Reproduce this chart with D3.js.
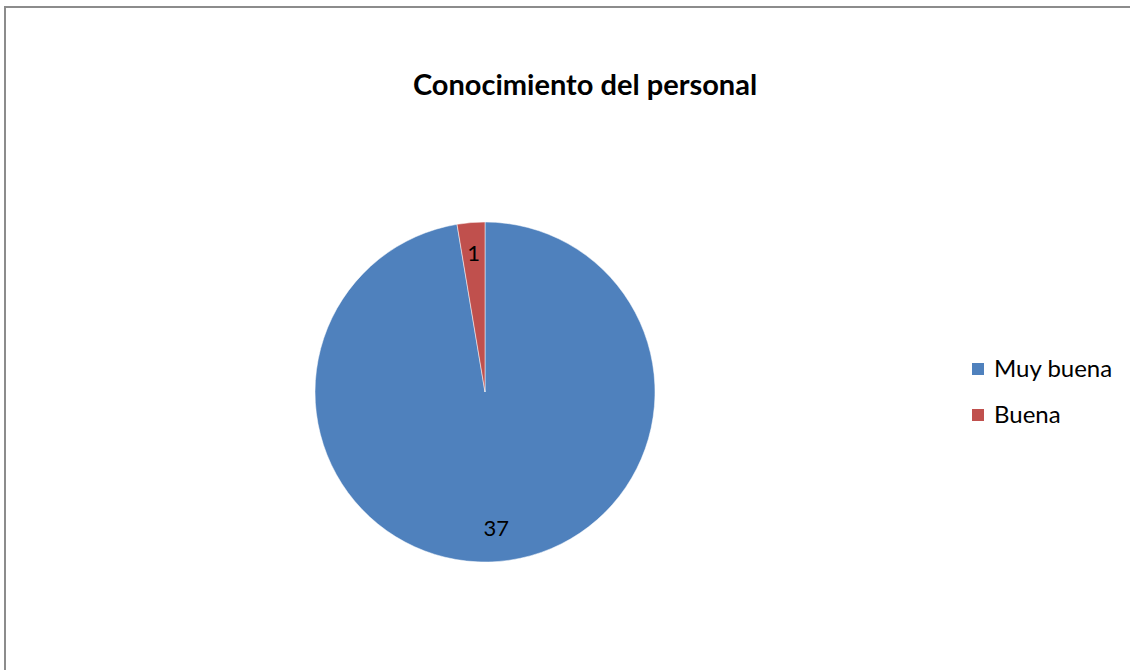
<!DOCTYPE html>
<html>
<head>
<meta charset="utf-8">
<script src="https://cdn.jsdelivr.net/npm/d3@7"></script>
<style>
  body { margin:0; background:#fff; overflow:hidden; }
  text { font-family: Lato, "Open Sans", sans-serif; }
</style>
</head>
<body>
<svg id="chart" width="1130" height="670"></svg>
<script>
// data
var categories = ["Muy buena", "Buena"];
var values = [37, 1];
var colors = ["#4F81BD", "#C0504D"];
var title = "Conocimiento del personal";

var svg = d3.select("#chart");
var W = 1130, H = 670;

// frame: only top and left edges are in the picture
svg.append("path")
    .attr("d", "M5," + H + "V7H" + W)
    .attr("fill", "none")
    .attr("stroke", "#8c8c8c")
    .attr("stroke-width", 2);

svg.append("text")
    .attr("x", 585).attr("y", 95)
    .attr("text-anchor", "middle")
    .style("font-weight", "bold")
    .style("font-size", "29px")
    .attr("fill", "#000")
    .text(title);

var cx = 485, cy = 392, R = 170;
var color = d3.scaleOrdinal().domain(categories).range(colors);

var pie = d3.pie().sort(null).value(function (d) { return d.v });
var data = categories.map(function (c, i) { return {c: c, v: values[i]} });
var arcs = pie(data);

var g = svg.append("g").attr("transform", "translate(" + cx + "," + cy + ")");
var arc = d3.arc().innerRadius(0).outerRadius(R);
var labelArc = d3.arc().innerRadius(R * 0.81).outerRadius(R * 0.81);

g.selectAll("path.slice")
    .data(arcs)
    .enter()
    .append("path")
    .attr("class", "slice")
    .attr("d", arc)
    .attr("fill", function (d) { return color(d.data.c) })
    .attr("stroke", "#fff")
    .attr("stroke-width", 0.5);

g.selectAll("text.lbl")
    .data(arcs)
    .enter()
    .append("text")
    .attr("class", "lbl")
    .attr("transform", function (d) { return "translate(" + labelArc.centroid(d) + ")" })
    .attr("text-anchor", "middle")
    .attr("dy", "0.3em")
    .style("font-size", "22px")
    .attr("fill", "#000")
    .text(function (d) { return d.data.v });

// legend
var leg = svg.append("g").attr("transform", "translate(972,369)");
var item = leg.selectAll("g.item")
    .data(categories)
    .enter()
    .append("g")
    .attr("class", "item")
    .attr("transform", function (d, i) { return "translate(0," + (i * 46) + ")" });
item.append("rect")
    .attr("x", 0).attr("y", -6)
    .attr("width", 12).attr("height", 12)
    .attr("fill", function (d) { return color(d) });
item.append("text")
    .attr("x", 22).attr("y", 0)
    .attr("dy", "0.35em")
    .style("font-size", "24px")
    .attr("fill", "#000")
    .text(function (d) { return d });
</script>
</body>
</html>
